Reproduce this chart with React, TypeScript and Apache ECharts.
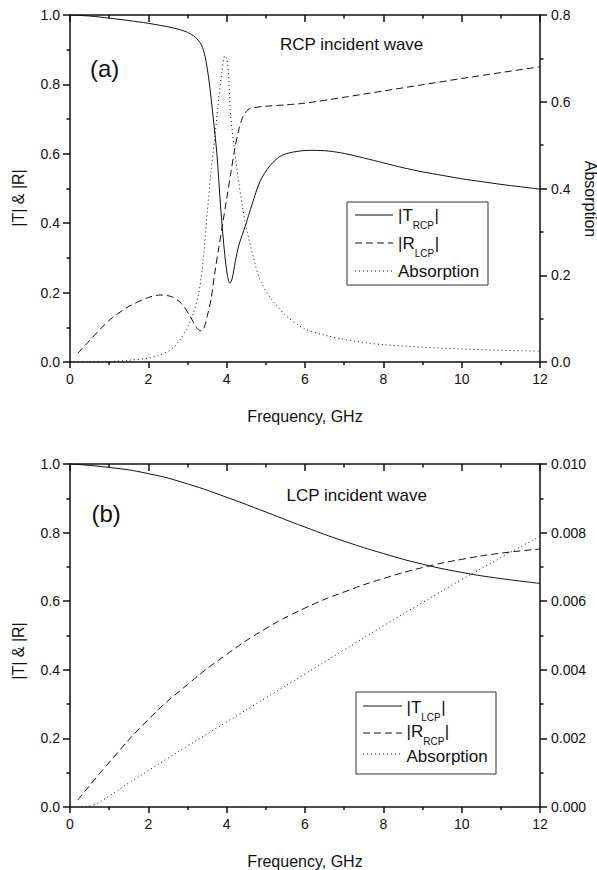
import React, { useEffect, useRef } from "react";
import * as echarts from "echarts";

const FONT = '"Liberation Sans", Arial, Helvetica, sans-serif';
const INK = "#111";

// Panel (a): RCP incident wave
const tRcp: [number, number][] = [
  [0, 1.0], [0.5, 0.997], [1, 0.991], [1.5, 0.984], [2, 0.976], [2.5, 0.966], [2.8, 0.958],
  [3.0, 0.95], [3.2, 0.936], [3.35, 0.915], [3.45, 0.88], [3.55, 0.81], [3.65, 0.71],
  [3.75, 0.6], [3.85, 0.44], [3.95, 0.31], [4.02, 0.25], [4.08, 0.227], [4.14, 0.24],
  [4.22, 0.29], [4.32, 0.34], [4.47, 0.39], [4.65, 0.455], [4.85, 0.52], [5.1, 0.565],
  [5.4, 0.595], [5.8, 0.607], [6.2, 0.61], [6.6, 0.608], [7, 0.601], [7.5, 0.588],
  [8, 0.574], [8.5, 0.56], [9, 0.548], [9.5, 0.538], [10, 0.528], [10.5, 0.52],
  [11, 0.512], [11.5, 0.505], [12, 0.498],
];
const rLcp: [number, number][] = [
  [0.2, 0.025], [0.5, 0.062], [1, 0.12], [1.5, 0.16], [2, 0.186], [2.3, 0.193], [2.6, 0.188],
  [2.85, 0.168], [3.05, 0.135], [3.2, 0.105], [3.3, 0.091], [3.36, 0.09], [3.43, 0.1],
  [3.5, 0.13], [3.6, 0.18], [3.7, 0.26], [3.8, 0.33], [3.9, 0.4], [4.0, 0.47], [4.1, 0.54],
  [4.2, 0.61], [4.3, 0.665], [4.4, 0.703], [4.5, 0.722], [4.6, 0.731], [5.0, 0.737],
  [5.5, 0.741], [6, 0.746], [7, 0.763], [8, 0.781], [9, 0.799], [10, 0.817], [11, 0.834],
  [12, 0.851],
];
const absA: [number, number][] = [
  [0, 0], [0.5, 0.0003], [1, 0.001], [1.5, 0.004], [2, 0.009], [2.3, 0.016], [2.6, 0.03],
  [2.8, 0.05], [3.0, 0.08], [3.15, 0.112], [3.3, 0.165], [3.4, 0.235], [3.5, 0.34],
  [3.6, 0.44], [3.7, 0.52], [3.8, 0.61], [3.88, 0.67], [3.95, 0.706], [4.0, 0.7],
  [4.05, 0.66], [4.1, 0.57], [4.2, 0.49], [4.3, 0.42], [4.4, 0.36], [4.5, 0.31],
  [4.7, 0.235], [4.85, 0.19], [5.1, 0.15], [5.5, 0.108], [6, 0.076], [6.5, 0.062],
  [7, 0.052], [7.5, 0.045], [8, 0.04], [9, 0.034], [10, 0.03], [11, 0.027], [12, 0.025],
];

// Panel (b): LCP incident wave
const tLcp: [number, number][] = [
  [0, 1.0], [1, 0.99], [2, 0.972], [3, 0.942], [4, 0.903], [5, 0.86], [6, 0.816],
  [7, 0.775], [8, 0.739], [9, 0.708], [10, 0.684], [11, 0.666], [12, 0.652],
];
const rRcp: [number, number][] = [
  [0.2, 0.02], [1, 0.13], [2, 0.255], [3, 0.357], [4, 0.445], [5, 0.52], [6, 0.58],
  [7, 0.627], [8, 0.666], [9, 0.698], [10, 0.722], [11, 0.74], [12, 0.752],
];
const absB: [number, number][] = [
  [0.3, 0], [0.6, 0.00006], [1, 0.00032], [1.5, 0.0007], [2, 0.00106], [2.5, 0.00142],
  [3, 0.00178], [4, 0.00248], [5, 0.00318], [6, 0.00388], [7, 0.00458], [8, 0.00528],
  [9, 0.00596], [10, 0.00663], [11, 0.00727], [12, 0.0079],
];

const freqRange = { min: 0, max: 12, interval: 2 };
const leftRange = { min: 0, max: 1, interval: 0.2 };
const rightRangeA = { min: 0, max: 0.8, interval: 0.2 };
const rightRangeB = { min: 0, max: 0.01, interval: 0.002 };

const xName = "Frequency, GHz";
const yName = "|T| & |R|";
const absName = "Absorption";

const axisLine = { show: true, onZero: false, lineStyle: { color: INK, width: 1.5 } };
const tickStyle = { color: INK, width: 1.5 };
const labelStyle = { color: INK, fontSize: 14, fontFamily: FONT };

function xBottom(gridIndex: number) {
  return {
    type: "value", gridIndex, position: "bottom", ...freqRange,
    axisLine,
    axisTick: { show: true, inside: false, length: 6, lineStyle: tickStyle },
    minorTick: { show: true, splitNumber: 2, length: 3, lineStyle: tickStyle },
    axisLabel: { show: true, margin: 10, ...labelStyle },
    splitLine: { show: false }, minorSplitLine: { show: false },
    name: xName, nameLocation: "middle", nameGap: 46,
    nameTextStyle: { color: INK, fontSize: 16, fontFamily: FONT },
  };
}
function xTop(gridIndex: number) {
  return {
    type: "value", gridIndex, position: "top", ...freqRange,
    axisLine,
    axisTick: { show: true, inside: true, length: 7, lineStyle: tickStyle },
    minorTick: { show: true, splitNumber: 2, length: 3.5, lineStyle: tickStyle },
    axisLabel: { show: false },
    splitLine: { show: false }, minorSplitLine: { show: false },
  };
}
function yAxis(gridIndex: number, position: string, range: any, digits: number) {
  return {
    type: "value", gridIndex, position, ...range,
    axisLine,
    axisTick: { show: true, inside: false, length: 7, lineStyle: tickStyle },
    minorTick: { show: true, splitNumber: 2, length: 3.5, lineStyle: tickStyle },
    axisLabel: {
      show: true, margin: position === "left" ? 10 : 11, ...labelStyle,
      formatter: (v: number) => v.toFixed(digits),
    },
    splitLine: { show: false }, minorSplitLine: { show: false },
  };
}

function line(name: string, data: [number, number][], xi: number, yi: number, dash: any, smooth: number) {
  return {
    type: "line", name, data, xAxisIndex: xi, yAxisIndex: yi,
    showSymbol: false, symbol: "none", smooth, silent: true,
    lineStyle: { color: INK, width: 1, type: dash },
  };
}

const DASH = [7, 4];
const DOT = [1, 3];

function txt(x: number, y: number, text: string, size: number, extra: any = {}) {
  return {
    type: "text", x, y, ...extra,
    style: {
      text, fill: INK, fontSize: size, fontFamily: FONT,
      align: extra.align || "left", textAlign: extra.align || "left",
      verticalAlign: "middle", textVerticalAlign: "middle",
    },
  };
}

// Arial/Liberation Sans advance widths (em) for the legend's letters
const EM: Record<string, number> = { "|": 0.26, T: 0.611, R: 0.722, L: 0.556, C: 0.722, P: 0.667 };
const textWidth = (s: string, size: number) => s.split("").reduce((a, c) => a + (EM[c] || 0.556), 0) * size;

type LegendLabel = { main: string; sub?: string };

function legendBox(
  x: number, y: number, w: number, h: number, lineRows: number[], textRows: number[],
  lx1: number, lx2: number, tx: number, labels: LegendLabel[], subDy: number,
) {
  const els: any[] = [
    { type: "rect", shape: { x, y, width: w, height: h }, style: { fill: "#fff", stroke: "#333", lineWidth: 1 }, z: 10 },
  ];
  const dashes = [null, DASH, DOT];
  lineRows.forEach((ry, i) => {
    els.push({
      type: "line", shape: { x1: lx1, y1: ry, x2: lx2, y2: ry }, z: 11,
      style: { stroke: INK, lineWidth: 1, lineDash: dashes[i] || undefined },
    });
    const lab = labels[i];
    const ty = textRows[i];
    if (lab.sub) {
      const t1 = "|" + lab.main;
      const w1 = textWidth(t1, 17);
      const w2 = textWidth(lab.sub, 10);
      els.push({ ...txt(tx, ty, t1, 17), z: 11 });
      els.push({ ...txt(tx + w1, ty + subDy, lab.sub, 10), z: 11 });
      els.push({ ...txt(tx + w1 + w2 + 0.5, ty, "|", 17), z: 11 });
    } else {
      els.push({ ...txt(tx, ty, lab.main, 17), z: 11 });
    }
  });
  return els;
}

const legendA: LegendLabel[] = [{ main: "T", sub: "RCP" }, { main: "R", sub: "LCP" }, { main: absName }];
const legendB: LegendLabel[] = [{ main: "T", sub: "LCP" }, { main: "R", sub: "RCP" }, { main: absName }];

export default function App() {
  const ref = useRef<HTMLDivElement>(null);
  useEffect(() => {
    if (!ref.current) return;
    const chart = echarts.init(ref.current, undefined, { renderer: "svg" });
    chart.setOption({
      animation: false,
      backgroundColor: "#fff",
      grid: [
        { left: 70, top: 15, width: 470, height: 347 },
        { left: 70, top: 464, width: 470, height: 348 },
      ],
      xAxis: [xBottom(0), xTop(0), xBottom(1), xTop(1)],
      yAxis: [
        yAxis(0, "left", leftRange, 1),
        yAxis(0, "right", rightRangeA, 1),
        yAxis(1, "left", leftRange, 1),
        yAxis(1, "right", rightRangeB, 3),
      ],
      series: [
        line("|T_RCP|", tRcp, 0, 0, "solid", 0.3),
        line("|R_LCP|", rLcp, 0, 0, DASH, 0.3),
        line("Absorption (a)", absA, 0, 1, DOT, 0.3),
        line("|T_LCP|", tLcp, 2, 2, "solid", 0.5),
        line("|R_RCP|", rRcp, 2, 2, DASH, 0.5),
        line("Absorption (b)", absB, 2, 3, DOT, 0.5),
      ],
      graphic: [
        txt(90, 68.5, "(a)", 24),
        txt(280, 44, "RCP incident wave", 17),
        txt(91.5, 513, "(b)", 24),
        txt(286.5, 495, "LCP incident wave", 17),
        txt(18, 198, yName, 16, { rotation: Math.PI / 2, align: "center" }),
        txt(18, 651, yName, 16, { rotation: Math.PI / 2, align: "center" }),
        txt(590, 199, absName, 16, { rotation: -Math.PI / 2, align: "center" }),
        ...legendBox(347, 202, 141, 83, [215, 243, 271], [215, 243, 271], 355, 393, 398, legendA, 10),
        ...legendBox(356, 692, 140, 82, [706, 733, 754], [707, 731, 756], 363, 402, 406.5, legendB, 10),
      ],
    });
    return () => chart.dispose();
  }, []);
  return (
    <div
      ref={ref}
      style={{ position: "absolute", left: 0, top: 0, width: 597, height: 870, background: "#fff" }}
    />
  );
}
